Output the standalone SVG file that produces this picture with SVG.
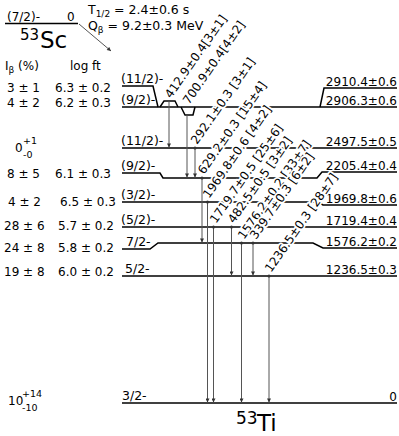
<svg xmlns="http://www.w3.org/2000/svg" width="399" height="436" viewBox="0 0 399 436" font-size="12">
<defs>
<style>
text{font-family:"DejaVu Sans","Verdana",sans-serif;fill:#000}
.lvl{fill:none;stroke:#000;stroke-width:1.5}
.tr{stroke:#555;stroke-width:1;fill:none}
.gl{font-size:12px;paint-order:stroke;stroke:#fff;stroke-width:3.5px;stroke-linejoin:round}
.ll{font-size:12.5px}
.en{font-size:12px;text-anchor:end}
.dot{fill:#333}
.sm{font-size:9.5px}
</style>
<marker id="ah" viewBox="0 0 6 6" refX="6" refY="3" markerWidth="5" markerHeight="4" markerUnits="userSpaceOnUse" orient="auto">
<path d="M0,0 L6,3 L0,6 z" fill="#333"/>
</marker>
</defs>
<rect width="399" height="436" fill="#fff"/>

<g id="parent">
<text x="7" y="21">(7/2)-</text>
<text x="67" y="21">0</text>
<path class="lvl" d="M5,23.5 H78"/>
<text x="20" y="40" style="font-size:15px">53</text>
<text x="40" y="48" style="font-size:23px">Sc</text>
<text x="88" y="14" style="font-size:12.5px">T<tspan style="font-size:9px" dy="2.5">1/2</tspan><tspan dy="-2.5"> = 2.4±0.6 s</tspan></text>
<text x="88" y="30" style="font-size:12.5px">Q<tspan style="font-size:9px" dy="2.5">β</tspan><tspan dy="-2.5"> =  9.2±0.3 MeV</tspan></text>
</g>

<g id="feeding">
<text x="5" y="70">I<tspan style="font-size:9px" dy="3">β</tspan><tspan dy="-3"> (%)</tspan></text>
<text x="70" y="70">log ft</text>
<text x="7" y="92">3 ± 1</text><text x="55" y="92">6.3 ± 0.2</text>
<text x="7" y="107">4 ± 2</text><text x="55" y="107">6.2 ± 0.3</text>
<text x="15" y="152">0</text><text class="sm" x="23" y="144">+1</text><text class="sm" x="23" y="158">-0</text>
<text x="7" y="178">8 ± 5</text><text x="55" y="178">6.1 ± 0.3</text>
<text x="8" y="206">4 ± 2</text><text x="60" y="206">6.5 ± 0.3</text>
<text x="4" y="230">28 ± 6</text><text x="58" y="230">5.7 ± 0.2</text>
<text x="4" y="252">24 ± 8</text><text x="58" y="252">5.8 ± 0.2</text>
<text x="4" y="276">19 ± 8</text><text x="58" y="276">6.0 ± 0.2</text>
<text x="8" y="405">10</text><text class="sm" x="22" y="397">+14</text><text class="sm" x="22" y="411">-10</text>
</g>

<g id="level-2910">
<path class="lvl" d="M122,86 H153 L158,107"/>
<path class="lvl" d="M160,107 L164,101 H175 L178,107"/>
<path class="lvl" d="M320,107 L324,88 H397"/>
<text class="ll" x="121" y="83">(11/2)-</text>
<text class="en" x="397" y="85.5">2910.4±0.6</text>
</g>
<g id="level-2906">
<path class="lvl" d="M122,107 H397"/>
<path class="lvl" d="M181,107 L185,115 H193 L195,107"/>
<text class="ll" x="121" y="104">(9/2)-</text>
<text class="en" x="397" y="104.5">2906.3±0.6</text>
</g>
<g id="level-2497">
<path class="lvl" d="M122,148 H397"/>
<text class="ll" x="121" y="145">(11/2)-</text>
<text class="en" x="397" y="145.5">2497.5±0.5</text>
</g>
<g id="level-2205">
<path class="lvl" d="M122,173 H160 L163,178 H317 L322,172 H397"/>
<text class="ll" x="121" y="170">(9/2)-</text>
<text class="en" x="397" y="169.5">2205.4±0.4</text>
</g>
<g id="level-1969">
<path class="lvl" d="M122,202 H318 L323,205 H397"/>
<text class="ll" x="121" y="199">(3/2)-</text>
<text class="en" x="397" y="202.5">1969.8±0.6</text>
</g>
<g id="level-1719">
<path class="lvl" d="M122,227 H397"/>
<text class="ll" x="121" y="224">(5/2)-</text>
<text class="en" x="397" y="224.5">1719.4±0.4</text>
</g>
<g id="level-1576">
<path class="lvl" d="M122,249 H150 L158,243 H313 L323,248 H397"/>
<text class="ll" x="126" y="246">7/2-</text>
<text class="en" x="397" y="245.5">1576.2±0.2</text>
</g>
<g id="level-1236">
<path class="lvl" d="M122,276 H397"/>
<text class="ll" x="125" y="273">5/2-</text>
<text class="en" x="397" y="273.5">1236.5±0.3</text>
</g>
<g id="level-0">
<path class="lvl" d="M122,403 H397"/>
<text class="ll" x="122" y="400">3/2-</text>
<text class="en" x="397" y="400.5">0</text>
<text x="236" y="424" style="font-size:17px">53</text>
<text x="257" y="431" style="font-size:23px">Ti</text>
</g>

<g id="gamma-labels">
<text class="gl" transform="translate(171,99) rotate(-55)">412.9±0.4[3±1]</text>
<text class="gl" transform="translate(189,105) rotate(-55)">700.9±0.4[4±2]</text>
<text class="gl" transform="translate(197,145) rotate(-55)">292.1±0.3 [3±1]</text>
<text class="gl" transform="translate(204,175) rotate(-55)">629.2±0.3 [15±4]</text>
<text class="gl" transform="translate(209,199) rotate(-55)">1969.8±0.6 [4±2]</text>
<text class="gl" transform="translate(216,224) rotate(-55)">1719.7±0.5 [25±6]</text>
<text class="gl" transform="translate(234,224) rotate(-55)">482.5±0.5 [3±2]</text>
<text class="gl" transform="translate(244,240) rotate(-55)">1576.2±0.2 [33±7]</text>
<text class="gl" transform="translate(256,240) rotate(-55)">339.7±0.3 [6±2]</text>
<text class="gl" transform="translate(271,273) rotate(-55)">1236.5±0.3 [28±7]</text>
</g>

<g id="connectors">
<path class="tr" d="M79,24 L111,51" marker-end="url(#ah)"/>
<path class="tr" d="M169,101 V147.5" marker-end="url(#ah)"/>
<path class="tr" d="M187,115 V177.5" marker-end="url(#ah)"/>
<path class="tr" d="M195,148 V177.5" marker-end="url(#ah)"/>
<path class="tr" d="M202,178 V242.5" marker-end="url(#ah)"/>
<path class="tr" d="M207.5,202 V402.5" marker-end="url(#ah)"/>
<path class="tr" d="M213.5,227 V402.5" marker-end="url(#ah)"/>
<path class="tr" d="M231.5,227 V275.5" marker-end="url(#ah)"/>
<path class="tr" d="M241.5,243 V402.5" marker-end="url(#ah)"/>
<path class="tr" d="M253,243 V275.5" marker-end="url(#ah)"/>
<path class="tr" d="M269,276 V402.5" marker-end="url(#ah)"/>
<circle class="dot" cx="195" cy="148" r="1.5"/>
<circle class="dot" cx="202" cy="178" r="1.5"/>
<circle class="dot" cx="207.5" cy="202" r="1.5"/>
<circle class="dot" cx="213.5" cy="227" r="1.5"/>
<circle class="dot" cx="231.5" cy="227" r="1.5"/>
<circle class="dot" cx="241.5" cy="243" r="1.5"/>
<circle class="dot" cx="253" cy="243" r="1.5"/>
<circle class="dot" cx="269" cy="276" r="1.5"/>
</g>
</svg>
